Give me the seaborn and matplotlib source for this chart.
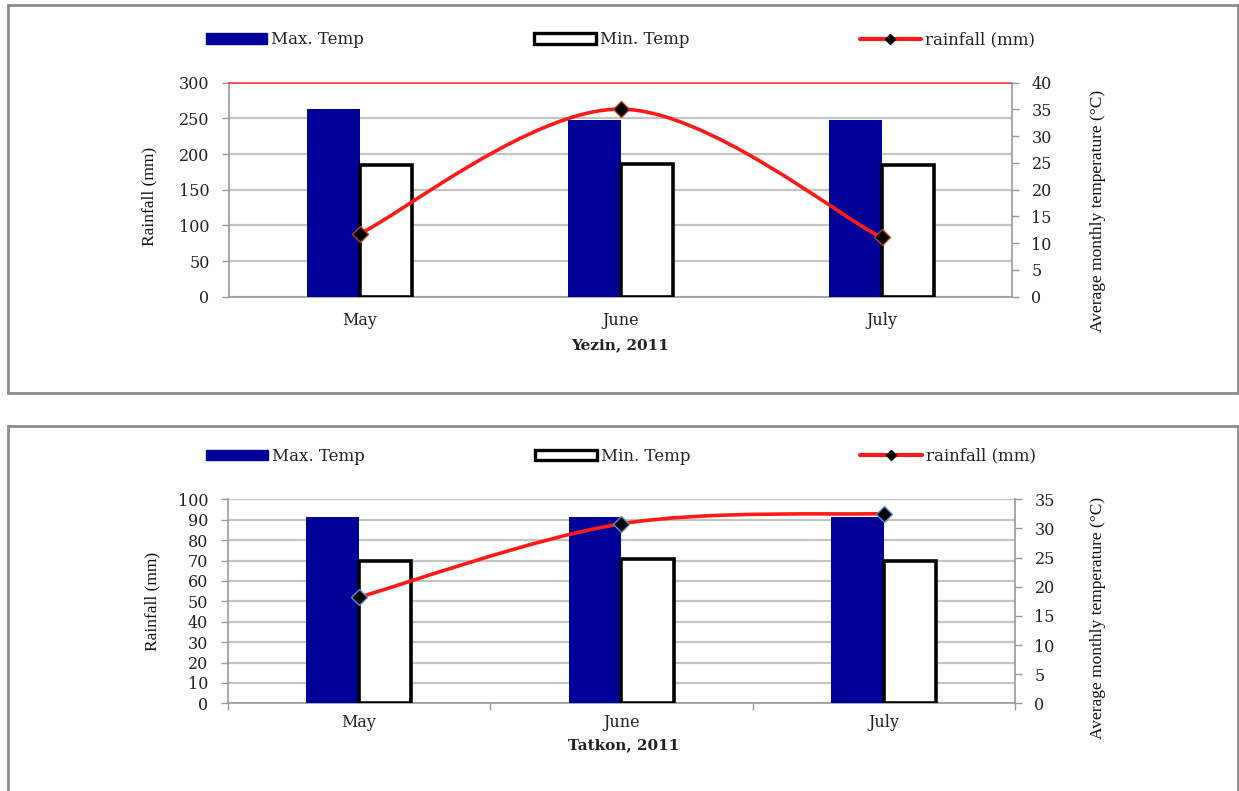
import numpy as np
import pandas as pd
import matplotlib
matplotlib.use("Agg")
import matplotlib.pyplot as plt
import seaborn as sns
from matplotlib.path import Path
from matplotlib.patches import PathPatch, Rectangle
from matplotlib.lines import Line2D
from matplotlib.ticker import FixedLocator

# ---------------- data ----------------
months = ["May", "June", "July"]
series_names = ["Max. Temp", "Min. Temp"]

yezin_max = [35.0, 33.0, 33.0]
yezin_min = [24.6, 24.8, 24.6]
yezin_rain = [88, 263, 83]

tatkon_max = [32.0, 32.0, 32.0]
tatkon_min = [24.5, 24.7, 24.5]
tatkon_rain = [52, 88, 93]

titles = ["Yezin, 2011", "Tatkon, 2011"]
rain_ticks_top = [0, 50, 100, 150, 200, 250, 300]
temp_ticks_top = [0, 5, 10, 15, 20, 25, 30, 35, 40]
rain_ticks_bot = [0, 10, 20, 30, 40, 50, 60, 70, 80, 90, 100]
temp_ticks_bot = [0, 5, 10, 15, 20, 25, 30, 35]

NAVY = "#000099"
GRID = "#c4c4c4"
SPINE = "#9a9a9a"
SERIF = "DejaVu Serif"
LAB = "Liberation Serif"

sns.set_theme(style="white")
plt.rcParams["font.family"] = [SERIF]

fig = plt.figure(figsize=(12.39, 7.91), dpi=100)
W, H = 1239, 791


def fbox(l, t, r, b):
    return [l / W, 1 - b / H, (r - l) / W, (b - t) / H]


# panel frames
fig.patches.append(Rectangle((8 / W, 1 - 393 / H), 1230 / W, 388 / H, transform=fig.transFigure,
                             fill=False, edgecolor="#8c8c8c", linewidth=2))
fig.patches.append(Rectangle((8 / W, -0.01), 1230 / W, (1 - 426 / H) + 0.01, transform=fig.transFigure,
                             fill=False, edgecolor="#8c8c8c", linewidth=2))


def smooth_path(xs, ys):
    pts = list(zip(xs, ys))
    n = len(pts)
    verts = [pts[0]]
    codes = [Path.MOVETO]
    for i in range(n - 1):
        p0 = pts[max(i - 1, 0)]
        p1 = pts[i]
        p2 = pts[i + 1]
        p3 = pts[min(i + 2, n - 1)]
        c1 = (p1[0] + (p2[0] - p0[0]) / 6, p1[1] + (p2[1] - p0[1]) / 6)
        c2 = (p2[0] - (p3[0] - p1[0]) / 6, p2[1] - (p3[1] - p1[1]) / 6)
        verts += [c1, c2, p2]
        codes += [Path.CURVE4] * 3
    return Path(verts, codes)


def panel(box, tmax, tmin, rain, rticks, tticks, title, red_top, ylab_pos, tlab_pos, leg_y,
          title_xy, mec, xpad, minor_ticks):
    ax = fig.add_axes(box)
    rmax = rticks[-1]
    ax.set_ylim(0, rmax)
    ax.set_xlim(-0.5, 2.5)
    ax.yaxis.set_major_locator(FixedLocator(rticks))
    ax.grid(axis="y", color=GRID, linewidth=1.6)
    ax.grid(axis="x", visible=False)
    ax.set_axisbelow(True)
    ax.spines["right"].set_visible(False)
    if red_top:
        ax.spines["top"].set_visible(True)
        ax.spines["top"].set_color("#ff3030")
        ax.spines["top"].set_linewidth(1.1)
        ax.spines["top"].set_zorder(5)
    else:
        ax.spines["top"].set_visible(False)
    ax.spines["left"].set_color(SPINE)
    ax.spines["bottom"].set_color(SPINE)
    ax.spines["left"].set_linewidth(1.2)
    ax.spines["bottom"].set_linewidth(1.2)
    ax.tick_params(axis="y", which="major", left=True, length=5, width=1, color=SPINE,
                   labelsize=11.5, pad=9, labelcolor="#222222")
    ax.set_xticks(range(len(months)))
    ax.set_xticklabels(months)
    ax.tick_params(axis="x", which="major", length=0, labelsize=11.5, pad=xpad, labelcolor="#222222")
    if minor_ticks:
        ax.xaxis.set_minor_locator(FixedLocator([-0.5, 0.5, 1.5, 2.5]))
        ax.tick_params(axis="x", which="minor", bottom=True, length=5, width=1, color=SPINE)
    ax.set_ylabel("Rainfall (mm)", family=LAB, fontsize=12.5, color="#111111")
    ax.yaxis.set_label_coords(*ylab_pos)

    # bars on the temperature (right) axis
    ax2 = ax.twinx()
    df = pd.DataFrame({
        "month": months * 2,
        "temp": list(tmax) + list(tmin),
        "series": [series_names[0]] * 3 + [series_names[1]] * 3,
    })
    sns.barplot(data=df, x="month", y="temp", hue="series", order=months, hue_order=series_names,
                palette=[NAVY, "white"], width=0.4, gap=0, legend=False, ax=ax2,
                saturation=1, err_kws={"linewidth": 0})
    for p in ax2.containers[0]:
        p.set_edgecolor(NAVY)
        p.set_linewidth(0)
    for p in ax2.containers[1]:
        p.set_edgecolor("black")
        p.set_linewidth(2.6)
    ax2.set_ylim(0, tticks[-1])
    ax2.set_xlim(-0.5, 2.5)
    ax2.yaxis.set_major_locator(FixedLocator(tticks))
    ax2.grid(False)
    ax2.set_xlabel("")
    for s in ["top", "left", "bottom"]:
        ax2.spines[s].set_visible(False)
    ax2.spines["right"].set_color(SPINE)
    ax2.spines["right"].set_linewidth(1.2)
    ax2.tick_params(axis="y", right=True, length=5, width=1, color=SPINE, labelsize=11.5,
                    pad=9, labelcolor="#222222")
    ax2.set_ylabel("Average monthly temperature (°C)", family=LAB, fontsize=12.5,
                   rotation=90, color="#111111")
    ax2.yaxis.set_label_coords(*tlab_pos)

    # rainfall line on its own layer (left scale)
    ax3 = ax.twinx()
    ax3.set_ylim(0, rmax)
    ax3.set_xlim(-0.5, 2.5)
    ax3.set_yticks([])
    ax3.grid(False)
    for s in ax3.spines.values():
        s.set_visible(False)
    xs = np.arange(len(months))
    ax3.add_patch(PathPatch(smooth_path(xs, rain), facecolor="none", edgecolor="#ff1a1a",
                            linewidth=2.6, capstyle="round"))
    ax3.plot(xs, rain, linestyle="none", marker="D", markersize=8.5, markerfacecolor="black",
             markeredgecolor=mec, markeredgewidth=1)

    handles = [
        Rectangle((0, 0), 1, 1, facecolor=NAVY, edgecolor=NAVY),
        Rectangle((0, 0), 1, 1, facecolor="white", edgecolor="black", linewidth=2.4),
        Line2D([], [], color="#ff1a1a", linewidth=3, marker="D", markersize=5,
               markerfacecolor="black", markeredgecolor="black"),
    ]
    ax3.legend(handles, [series_names[0], series_names[1], "rainfall (mm)"], loc="center",
               bbox_to_anchor=(0.5, leg_y), ncol=3, frameon=False, fontsize=12,
               handlelength=3.7, handleheight=0.55, handletextpad=0.25, columnspacing=10.2,
               labelcolor="#222222")
    fig.text(title_xy[0] / W, 1 - title_xy[1] / H, title, ha="center", va="center",
             fontsize=11, fontweight="bold", color="#222222")
    return ax


panel(fbox(229, 82.7, 1012, 296.7), yezin_max, yezin_min, yezin_rain, rain_ticks_top,
      temp_ticks_top, titles[0], True, (-0.092, 0.47), (1.10, 0.40), 1.20, (620, 345), "#b04020",
      11, False)
panel(fbox(227.7, 499.3, 1015, 703.3), tatkon_max, tatkon_min, tatkon_rain, rain_ticks_bot,
      temp_ticks_bot, titles[1], False, (-0.086, 0.50), (1.095, 0.42), 1.212, (624, 745), "#5a8ed0",
      8, True)

fig.savefig("out.png", dpi=100, facecolor="white")
